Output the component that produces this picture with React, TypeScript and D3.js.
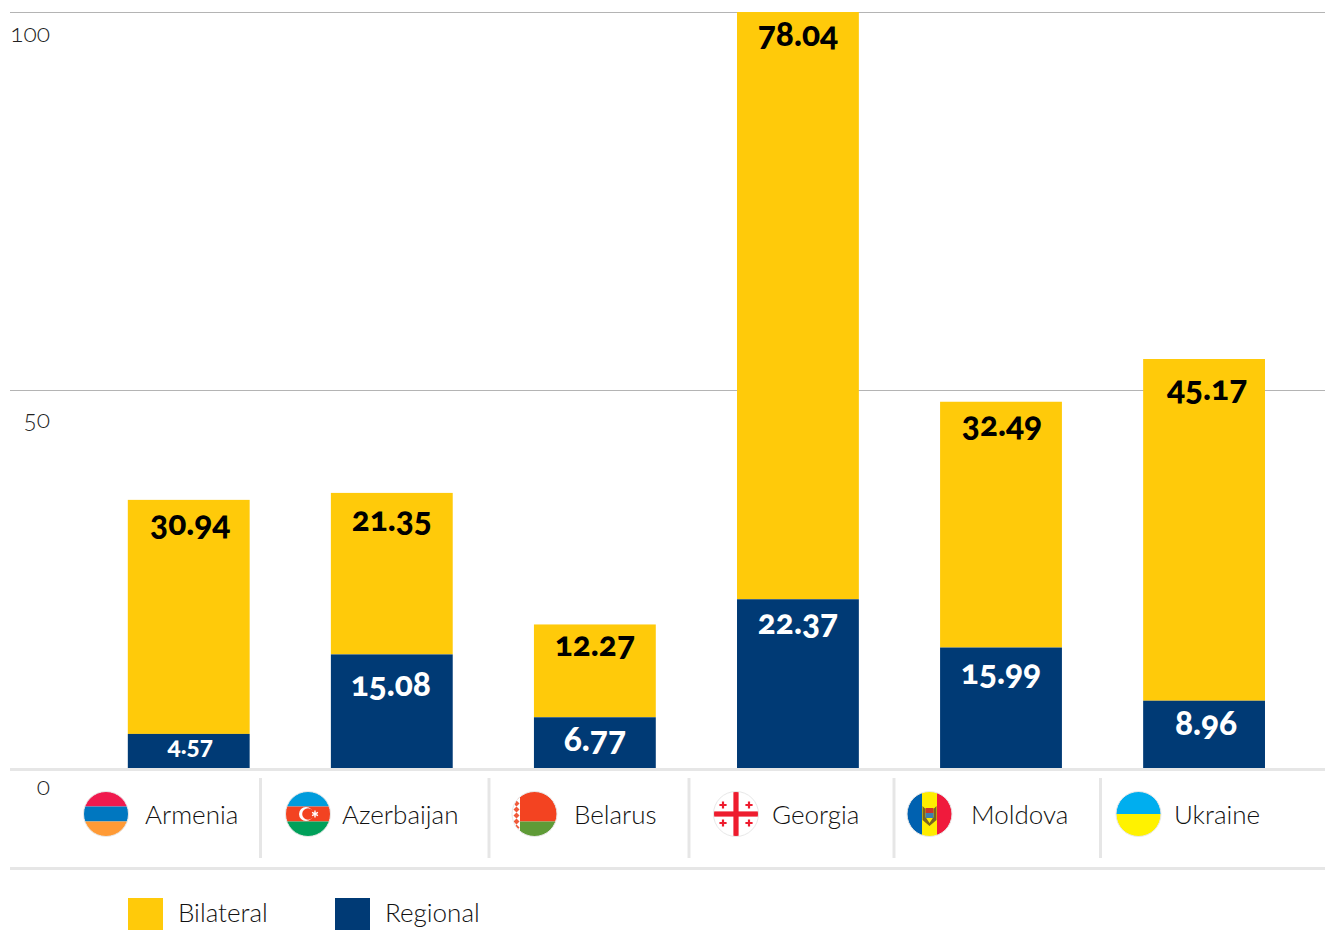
import React from "react";
import * as d3 from "d3";

const countries = ["Armenia", "Azerbaijan", "Belarus", "Georgia", "Moldova", "Ukraine"];
const regional = [4.57, 15.08, 6.77, 22.37, 15.99, 8.96];
const bilateral = [30.94, 21.35, 12.27, 78.04, 32.49, 45.17];
const yTicks = [100, 50, 0];
const seriesNames = ["Bilateral", "Regional"];

const YELLOW = "#ffca0a";
const NAVY = "#003a75";
const FONT = "Lato, 'Open Sans', sans-serif";

const W = 1325;
const H = 930;
const y = d3.scaleLinear().domain([0, 100]).range([768.5, 12]).clamp(true);
const x = d3.scaleBand<string>().domain(countries).range([87.2, 1305.6]).paddingInner(0.4).paddingOuter(0.2);

// Label baseline offsets from the top of each segment, and horizontal nudges
const bilateralDy = [35, 38, 32, 34, 34, 41];
const regionalDy = [20, 42, 34, 35, 36, 34];
const bilateralDx = [1.5, 0, 0, 0, 1, 3];
const regionalDx = [1.5, -1, 0, 0, 0, 2];
const flagX = [106, 308, 534.5, 736, 929.5, 1138.5];
const nameX = [145, 342, 574, 772, 971, 1174];
const separators = [260.5, 489, 689, 894, 1100.5];
const tickLabelY = [42, 428, 795];

function Flag({ i, cx }: { i: number; cx: number }) {
  const r = 22.5;
  const l = cx - r;
  const t = 814 - r;
  const id = `clip${i}`;
  const d = r * 2;
  let body: React.ReactNode = null;
  if (i === 0) {
    body = (
      <>
        <rect x={l} y={t} width={d} height={15} fill="#f01a4e" />
        <rect x={l} y={t + 15} width={d} height={15} fill="#0077c0" />
        <rect x={l} y={t + 30} width={d} height={15} fill="#ff9a35" />
      </>
    );
  } else if (i === 1) {
    body = (
      <>
        <rect x={l} y={t} width={d} height={15} fill="#009cdc" />
        <rect x={l} y={t + 15} width={d} height={15} fill="#f34321" />
        <rect x={l} y={t + 30} width={d} height={15} fill="#00a05a" />
        <circle cx={cx - 2} cy={814} r={7} fill="#fff" />
        <circle cx={cx} cy={814} r={5.8} fill="#f34321" />
        <path d={d3.symbol().type(d3.symbolAsterisk).size(32)() as string} transform={`translate(${cx + 7},814)`} stroke="#fff" strokeWidth={1.4} fill="#fff" />
      </>
    );
  } else if (i === 2) {
    body = (
      <>
        <rect x={l} y={t} width={d} height={d} fill="#fff" />
        <rect x={l + 8} y={t} width={d - 8} height={30} fill="#f34321" />
        <rect x={l + 8} y={t + 30} width={d - 8} height={15} fill="#5f9b37" />
        {d3.range(7).map((k) => (
          <path
            key={k}
            d={`M${l + 4.5} ${t + 3 + k * 6} l3 3 l-3 3 l-3 -3 z`}
            fill="#f05a3a"
          />
        ))}
      </>
    );
  } else if (i === 3) {
    const cross = (a: number, b: number, k: number) => (
      <path key={k} d={`M${a - 3.6} ${b}H${a + 3.6}M${a} ${b - 3.6}V${b + 3.6}`} stroke="#ee1c2e" strokeWidth={2.2} />
    );
    body = (
      <>
        <rect x={l} y={t} width={d} height={d} fill="#fff" />
        <rect x={cx - 2.6} y={t} width={5.2} height={d} fill="#ee1c2e" />
        <rect x={l} y={814 - 2.6} width={d} height={5.2} fill="#ee1c2e" />
        {[
          [-13, -9],
          [13, -9],
          [-13, 9],
          [13, 9],
        ].map(([a, b], k) => cross(cx + a, 814 + b, k))}
      </>
    );
  } else if (i === 4) {
    body = (
      <>
        <rect x={l} y={t} width={15} height={d} fill="#0061b0" />
        <rect x={l + 15} y={t} width={15} height={d} fill="#ffed00" />
        <rect x={l + 30} y={t} width={15} height={d} fill="#f01a3c" />
        <path d={`M${cx - 7} ${806} l3 3 v8 l4 6 l4 -6 v-8 l3 -3 v14 l-7 6 l-7 -6 z`} fill="#7a6420" />
        <rect x={cx - 4} y={808} width={8} height={5} fill="#c8362c" />
        <rect x={cx - 4} y={813} width={8} height={5} fill="#3f7fb0" />
      </>
    );
  } else {
    body = (
      <>
        <rect x={l} y={t} width={d} height={22.5} fill="#00aeef" />
        <rect x={l} y={t + 22.5} width={d} height={22.5} fill="#fff200" />
      </>
    );
  }
  return (
    <g>
      <clipPath id={id}>
        <circle cx={cx} cy={814} r={r} />
      </clipPath>
      <g clipPath={`url(#${id})`}>{body}</g>
      <circle cx={cx} cy={814} r={r} fill="none" stroke="#e8e8e8" strokeWidth={1} />
    </g>
  );
}

export default function App() {
  const bw = x.bandwidth();
  return (
    <svg
      width={W}
      height={H}
      viewBox={`0 0 ${W} ${H}`}
      style={{ position: "absolute", left: 0, top: 0, background: "#fff", fontFamily: FONT, fontVariantNumeric: "oldstyle-nums" }}
    >
      {yTicks.filter((t) => t > 0).map((t) => (
        <line key={t} x1={10} x2={1325} y1={Math.round(y(t)) + 0.5} y2={Math.round(y(t)) + 0.5} stroke="#b4b4b4" strokeWidth={1} />
      ))}
      {yTicks.map((t, i) => (
        <text key={t} x={50} y={tickLabelY[i]} textAnchor="end" fontSize={24.5} fontWeight={300} fill="#222">
          {t}
        </text>
      ))}

      {countries.map((c, i) => {
        const bx = x(c) as number;
        const rTop = y(regional[i]);
        const bTop = y(regional[i] + bilateral[i]);
        return (
          <g key={c}>
            <rect x={bx} y={bTop} width={bw} height={rTop - bTop} fill={YELLOW} />
            <rect x={bx} y={rTop} width={bw} height={y(0) - rTop} fill={NAVY} />
            <text x={bx + bw / 2 + bilateralDx[i]} y={bTop + bilateralDy[i]} textAnchor="middle" fontSize={33.5} fontWeight={900} fill="#000">
              {bilateral[i]}
            </text>
            <text
              x={bx + bw / 2 + regionalDx[i]}
              y={rTop + regionalDy[i]}
              textAnchor="middle"
              fontSize={regional[i] < 5 ? 24.5 : 33.5}
              fontWeight={900}
              fill="#fff"
            >
              {regional[i]}
            </text>
          </g>
        );
      })}

      <line x1={10} x2={1325} y1={769.5} y2={769.5} stroke="#e6e6e6" strokeWidth={3} />
      <line x1={10} x2={1325} y1={868.5} y2={868.5} stroke="#e6e6e6" strokeWidth={3} />
      {separators.map((s) => (
        <line key={s} x1={s} x2={s} y1={778} y2={858} stroke="#e6e6e6" strokeWidth={3} />
      ))}

      {countries.map((c, i) => (
        <g key={c}>
          <Flag i={i} cx={flagX[i]} />
          <text x={nameX[i]} y={823.5} fontSize={26} fontWeight={300} fill="#111">
            {c}
          </text>
        </g>
      ))}

      {seriesNames.map((s, i) => {
        const lx = [128, 335][i];
        return (
          <g key={s}>
            <rect x={lx} y={898} width={35} height={32} fill={i === 0 ? YELLOW : NAVY} />
            <text x={lx + 50} y={921.5} fontSize={26} fontWeight={300} fill="#111">
              {s}
            </text>
          </g>
        );
      })}
    </svg>
  );
}
